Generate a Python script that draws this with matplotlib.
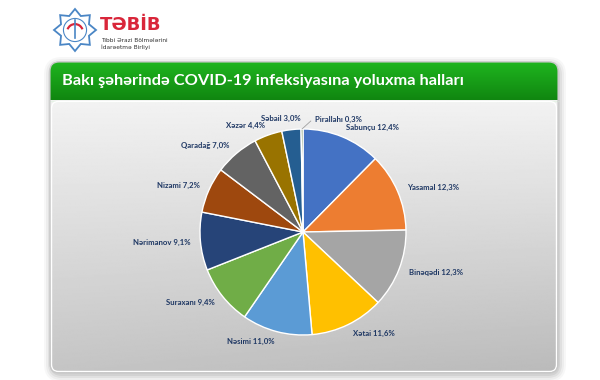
import numpy as np
import matplotlib
matplotlib.use("Agg")
import matplotlib.pyplot as plt
from matplotlib.patches import FancyBboxPatch, Polygon, Wedge, Circle

# ---- data ----
districts = ["Sabunçu", "Yasamal", "Binəqədi", "Xətai", "Nəsimi", "Suraxanı",
             "Nərimanov", "Nizami", "Qaradağ", "Xəzər", "Səbail", "Pirallahı"]
shares = [12.4, 12.3, 12.3, 11.6, 11.0, 9.4, 9.1, 7.2, 7.0, 4.4, 3.0, 0.3]
title = "Bakı şəhərində COVID-19 infeksiyasına yoluxma halları"

colors = ["#4472C4", "#ED7D31", "#A5A5A5", "#FFC000", "#5B9BD5", "#70AD47",
          "#264478", "#9E480E", "#636363", "#997300", "#255E91", "#43682B"]

W, H = 600, 380
fig = plt.figure(figsize=(6, 3.8), dpi=100)
fig.patch.set_facecolor("white")
ax = fig.add_axes([0, 0, 1, 1])
ax.set_xlim(0, W)
ax.set_ylim(H, 0)
ax.axis("off")

# ---- shadow ----
for i, a in enumerate([0.03, 0.04, 0.05, 0.06]):
    pad = 8 - 2 * i
    sh = FancyBboxPatch((50 - pad + 2, 62 - pad + 3), 508 + 2 * pad - 2, 311 + 2 * pad - 2,
                        boxstyle="round,pad=0,rounding_size=%d" % (10 + pad),
                        fc="black", ec="none", alpha=a)
    ax.add_patch(sh)

# ---- panel ----
panel = FancyBboxPatch((50, 62), 508, 311, boxstyle="round,pad=0,rounding_size=9",
                       fc="none", ec="#d0d0d0", lw=0.8)
ax.add_patch(panel)
yy, xx = np.mgrid[0:1:200j, 0:1:200j]
grad = 0.95 - 0.18 * yy - 0.04 * xx * yy
body = ax.imshow(grad, cmap="gray", vmin=0, vmax=1, extent=[50, 558, 373, 100],
                 aspect="auto", zorder=1, interpolation="bilinear")
body.set_clip_path(panel)
gy = np.linspace(0, 1, 100)[:, None]
g0 = np.array([0x1f, 0xb5, 0x1f]) / 255
g1 = np.array([0x10, 0x86, 0x10]) / 255
green = (g0[None, None, :] * (1 - gy[..., None]) + g1[None, None, :] * gy[..., None])
green = np.repeat(green, 10, axis=1)
hdr = ax.imshow(green, extent=[50, 558, 100, 62], aspect="auto", zorder=2,
                interpolation="bilinear")
hdr.set_clip_path(panel)
ax.plot([50, 558], [100.5, 100.5], color="#e6f2e6", lw=1, zorder=3)
inner = FancyBboxPatch((51.5, 101.5), 505, 270, boxstyle="round,pad=0,rounding_size=7",
                       fc="none", ec="white", lw=1.0, zorder=3)
ax.add_patch(inner)
ax.add_patch(FancyBboxPatch((50, 62), 508, 311, boxstyle="round,pad=0,rounding_size=9",
                            fc="none", ec="#c8c8c8", lw=0.8, zorder=4))

ax.text(62, 81, title, color="white", fontsize=11.8, fontweight="bold",
        family="Lato", va="center", ha="left", zorder=5)

# ---- logo ----
cx, cy, R = 75, 30, 21
pts = []
for k in range(16):
    ang = np.pi / 2 + k * np.pi / 8
    r = R if k % 2 == 0 else R * 0.72
    pts.append((cx + r * np.cos(ang), cy - r * np.sin(ang)))
ax.add_patch(Polygon(pts, closed=True, fc="white", ec="#4a86c5", lw=1.3, zorder=5))
ax.add_patch(Circle((cx, cy), R * 0.55, fc="none", ec="#4a86c5", lw=0.8, zorder=5))
ax.add_patch(Wedge((cx, cy + 2), 9, 200, 340, width=2.2, fc="#d9263a", ec="none", zorder=6))
ax.plot([cx, cx], [cy - 10, cy + 8], color="#4a86c5", lw=1.2, zorder=6)
ax.text(100, 25, "TƏBİB", color="#d9263a", fontsize=13, fontweight="bold",
        family="DejaVu Sans", va="center", ha="left", zorder=5)
ax.text(101, 40, "Tibbi Ərazi Bölmələrini", color="#333333", fontsize=4.2,
        family="DejaVu Sans", va="center", ha="left", zorder=5)
ax.text(101, 47, "İdarəetmə Birliyi", color="#333333", fontsize=4.2,
        family="DejaVu Sans", va="center", ha="left", zorder=5)

# ---- pie ----
pcx, pcy, pr = 303, 232, 103
pax = fig.add_axes([(pcx - pr) / W, (H - pcy - pr) / H, 2 * pr / W, 2 * pr / H])
wedges, _ = pax.pie(shares, colors=colors, startangle=90, counterclock=False, radius=1,
                    wedgeprops=dict(edgecolor="white", linewidth=1.0))
pax.set_xlim(-1, 1)
pax.set_ylim(-1, 1)
pax.set_aspect("auto")
pax.axis("off")
pax.patch.set_alpha(0)

label_angle_override = {"Səbail": 359.0, "Pirallahı": 6.0}
cum = np.cumsum([0] + shares)
total = sum(shares)
for i, (name, v) in enumerate(zip(districts, shares)):
    mid = (cum[i] + v / 2) / total * 360.0
    ang = label_angle_override.get(name, mid)
    t = np.deg2rad(ang)
    x, y = 1.1 * np.sin(t), 1.1 * np.cos(t)
    ha = "left" if x > 0 else "right"
    txt = f"{name} {v:.1f}%".replace(".", ",")
    pax.text(x, y, txt, ha=ha, va="center", fontsize=5.6, fontweight="bold",
             color="#1F3864", family="Lato", clip_on=False)
    if name == "Pirallahı":
        t0 = np.deg2rad(mid)
        pax.plot([1.0 * np.sin(t0), 1.08 * np.sin(np.deg2rad(4))],
                 [1.0 * np.cos(t0), 1.08 * np.cos(np.deg2rad(4))],
                 color="#a0a0a0", lw=0.6, clip_on=False)

fig.savefig("out.png", dpi=100)
